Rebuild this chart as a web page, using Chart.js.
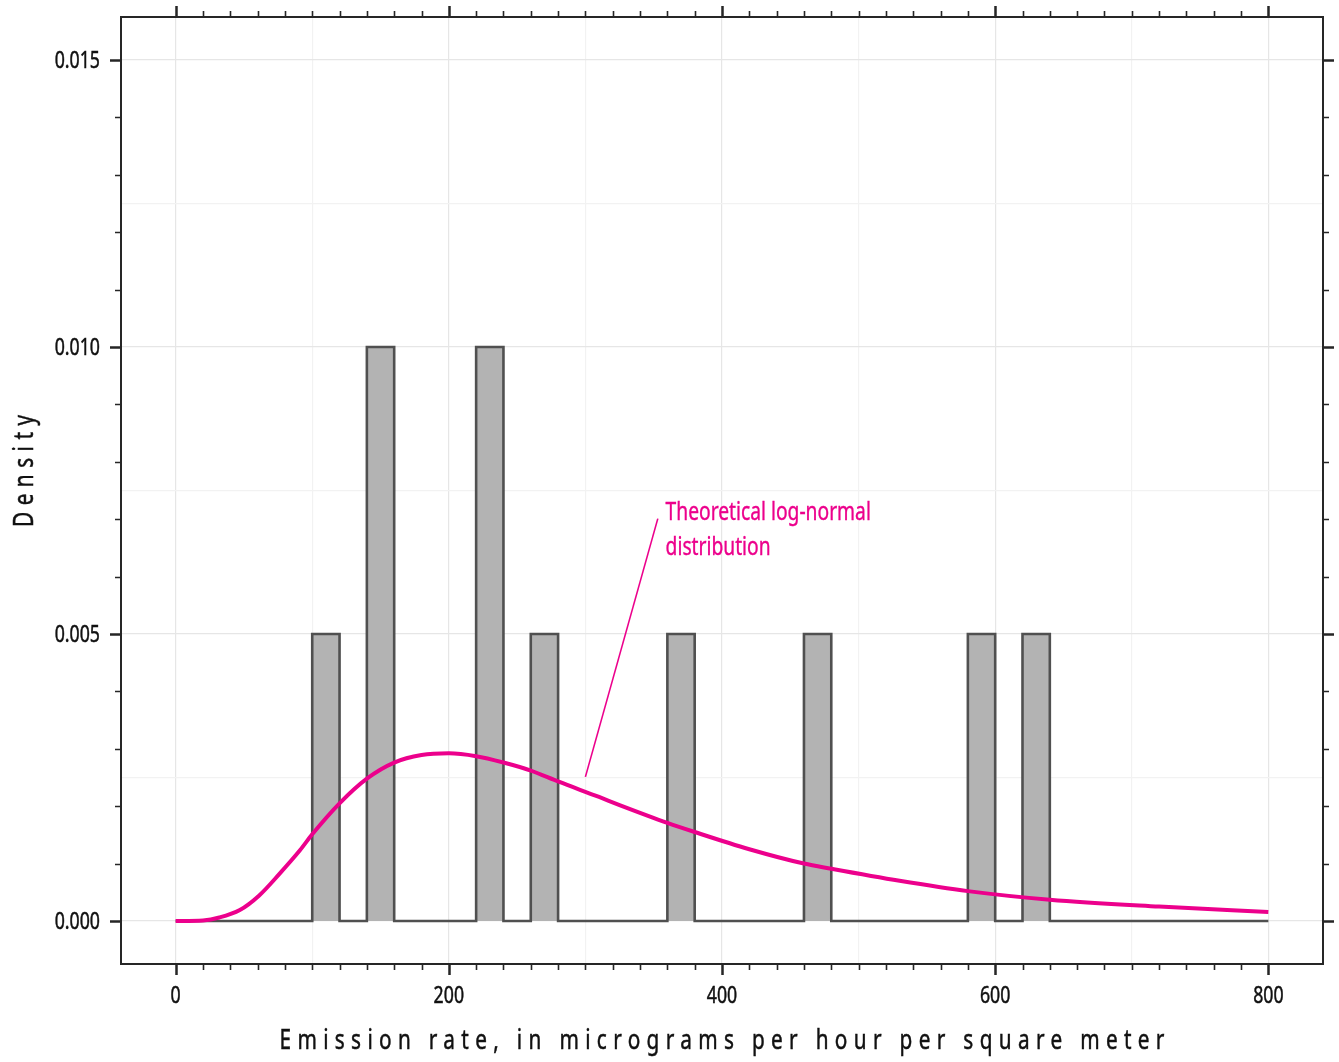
<!DOCTYPE html>
<html>
<head>
<meta charset="utf-8">
<script src="https://cdn.jsdelivr.net/npm/chart.js@4.4.1/dist/chart.umd.min.js"></script>
<style>
    html, body { margin: 0; padding: 0; background: #fff; }
    #wrap { width: 1339px; height: 1062px; position: relative; }
</style>
</head>
<body>
<div id="wrap"><canvas id="chart"></canvas></div>
<script>
// Histogram bins (emission rate) and their densities
const binLeft = [100, 140, 220, 260, 360, 460, 580, 620];
const binRight = [120, 160, 240, 280, 380, 480, 600, 640];
const binDensity = [0.005, 0.010, 0.010, 0.005, 0.005, 0.005, 0.005, 0.005];
const histStart = 0;
const histEnd = 800;

// Theoretical log-normal curve
const curveX = [0, 20, 32, 47, 61, 76, 91, 100, 120, 140, 160, 180, 200, 220, 240, 260, 280,
    310, 325, 360, 380, 420, 460, 480, 530, 580, 640, 720, 800];
const curveY = [0, 0.00001, 0.00006, 0.00019, 0.00044, 0.00082, 0.00123, 0.00151, 0.00205,
    0.00248, 0.00276, 0.00289, 0.00292, 0.00287, 0.00276, 0.00262, 0.00243, 0.00216, 0.00202,
    0.00171, 0.00155, 0.00125, 0.00100, 0.00091, 0.00070, 0.00052, 0.00037, 0.00025, 0.000155];

// Callout (data units)
const leaderX = [353, 300];
const leaderY = [0.00701, 0.00251];
const calloutLines = ['Theoretical log-normal', 'distribution'];
const calloutX = 358.7;
const calloutY = [0.00698, 0.00637];

// Axes
const xTickValues = [0, 200, 400, 600, 800];
const xTickLabels = ['0', '200', '400', '600', '800'];
const yTickValues = [0, 0.005, 0.010, 0.015];
const yTickLabels = ['0.000', '0.005', '0.010', '0.015'];
const xTitle = 'Emission rate, in micrograms per hour per square meter';
const yTitle = 'Density';

const FONT = "'Noto Sans', 'DejaVu Sans', sans-serif";
const MAGENTA = '#ec008c';
const INK = '#111';
const SQUEEZE = 0.77;   // condensed look: narrow the glyphs horizontally

// bars as one outlined polygon along the baseline
const barPoints = [{ x: histStart, y: 0 }];
binLeft.forEach((l, i) => {
    barPoints.push({ x: l, y: 0 }, { x: l, y: binDensity[i] },
        { x: binRight[i], y: binDensity[i] }, { x: binRight[i], y: 0 });
});
barPoints.push({ x: histEnd, y: 0 });

const curvePoints = curveX.map((x, i) => ({ x: x, y: curveY[i] }));
const leaderPoints = leaderX.map((x, i) => ({ x: x, y: leaderY[i] }));

function near(v, step) {
    const r = v / step;
    return Math.abs(r - Math.round(r)) < 1e-6;
}

// fill plus a hairline stroke to thicken the glyphs a little
function ink(ctx, text, x, y, weight) {
    ctx.fillText(text, x, y);
    if (weight) {
        ctx.lineWidth = weight;
        ctx.strokeStyle = ctx.fillStyle;
        ctx.strokeText(text, x, y);
    }
}

function squeezed(ctx, text, x, y, align, sx, weight) {
    ctx.save();
    ctx.translate(x, y);
    ctx.scale(sx, 1);
    ctx.textAlign = align;
    ink(ctx, text, 0, 0, weight);
    ctx.restore();
}

// letter spaced title stretched to a given width, centred on (cx, cy)
function spacedTitle(ctx, text, cx, cy, width, angle) {
    ctx.save();
    ctx.letterSpacing = '0px';
    const w = ctx.measureText(text).width * SQUEEZE;
    const gap = (width - w) / (text.length - 1) / SQUEEZE;
    ctx.letterSpacing = gap.toFixed(2) + 'px';
    ctx.translate(cx, cy);
    ctx.rotate(angle);
    ctx.scale(SQUEEZE, 1);
    ctx.textAlign = 'left';
    ink(ctx, text, -width / 2 / SQUEEZE, 0, 0.5);
    ctx.restore();
}

const frame = {
    id: 'frame',
    afterDraw(chart) {
        const { ctx, chartArea: a, scales: { x, y } } = chart;
        ctx.save();
        ctx.strokeStyle = '#262626';
        ctx.lineCap = 'butt';

        // tick marks on all four sides
        for (let v = 0; v <= 800; v += 20) {
            const px = Math.round(x.getPixelForValue(v)) + 0.5;
            const major = v % 200 === 0;
            const len = major ? 11 : 6;
            ctx.lineWidth = major ? 2.5 : 1.6;
            ctx.beginPath();
            ctx.moveTo(px, a.bottom); ctx.lineTo(px, a.bottom + len);
            ctx.moveTo(px, a.top); ctx.lineTo(px, a.top - len);
            ctx.stroke();
        }
        for (let k = 0; k <= 15; k++) {
            const py = Math.round(y.getPixelForValue(k / 1000)) + 0.5;
            const major = k % 5 === 0;
            const len = major ? 11 : 6;
            ctx.lineWidth = major ? 2.5 : 1.6;
            ctx.beginPath();
            ctx.moveTo(a.left, py); ctx.lineTo(a.left - len, py);
            ctx.moveTo(a.right, py); ctx.lineTo(a.right + len, py);
            ctx.stroke();
        }

        // frame
        ctx.lineWidth = 2;
        ctx.strokeRect(a.left, a.top, a.right - a.left, a.bottom - a.top);

        // tick labels
        ctx.fillStyle = INK;
        ctx.font = '23px ' + FONT;
        ctx.textBaseline = 'alphabetic';
        xTickValues.forEach((v, i) => {
            squeezed(ctx, xTickLabels[i], x.getPixelForValue(v), a.bottom + 39, 'center', SQUEEZE, 0.5);
        });
        yTickValues.forEach((v, i) => {
            squeezed(ctx, yTickLabels[i], a.left - 21, y.getPixelForValue(v) + 8, 'right', SQUEEZE, 0.5);
        });

        // axis titles, letter spaced
        ctx.font = '27px ' + FONT;
        spacedTitle(ctx, xTitle, (a.left + a.right) / 2, 1049, 885, 0);
        spacedTitle(ctx, yTitle, 33, 471, 112, -Math.PI / 2);

        // callout text
        ctx.fillStyle = MAGENTA;
        ctx.font = '26px ' + FONT;
        calloutLines.forEach((t, i) => {
            squeezed(ctx, t, x.getPixelForValue(calloutX), y.getPixelForValue(calloutY[i]), 'left', 0.74, 0.4);
        });
        ctx.restore();
    }
};

function zeroPad(axis) {
    axis.paddingTop = 0;
    axis.paddingBottom = 0;
    axis.paddingLeft = 0;
    axis.paddingRight = 0;
}

new Chart(document.getElementById('chart'), {
    type: 'line',
    data: {
        datasets: [
            {
                label: 'Log-normal',
                data: curvePoints,
                borderColor: MAGENTA,
                borderWidth: 4,
                pointRadius: 0,
                cubicInterpolationMode: 'monotone',
                fill: false,
                order: 0
            },
            {
                label: 'Leader',
                data: leaderPoints,
                borderColor: MAGENTA,
                borderWidth: 1.6,
                pointRadius: 0,
                fill: false,
                order: 1
            },
            {
                label: 'Histogram',
                data: barPoints,
                borderColor: '#505050',
                backgroundColor: '#b3b3b3',
                borderWidth: 2.6,
                borderJoinStyle: 'miter',
                pointRadius: 0,
                tension: 0,
                fill: 'origin',
                order: 2
            }
        ]
    },
    options: {
        responsive: true,
        maintainAspectRatio: false,
        animation: false,
        layout: { padding: { top: 17, right: 16, left: 0, bottom: 0 } },
        plugins: {
            legend: { display: false },
            tooltip: { enabled: false }
        },
        scales: {
            x: {
                type: 'linear',
                position: 'bottom',
                min: -40,
                max: 840,
                afterBuildTicks: axis => {
                    const t = [];
                    for (let v = 0; v <= 800; v += 100) t.push({ value: v });
                    axis.ticks = t;
                },
                afterFit: axis => { axis.height = 98; zeroPad(axis); },
                border: { display: false },
                grid: {
                    drawTicks: false,
                    color: c => c.tick.value % 200 === 0 ? '#e6e6e6' : '#f2f2f2',
                    lineWidth: 1.2
                },
                ticks: { display: false }
            },
            y: {
                type: 'linear',
                position: 'left',
                min: -0.00075,
                max: 0.01575,
                afterBuildTicks: axis => {
                    const t = [];
                    for (let k = 0; k <= 6; k++) t.push({ value: k * 0.0025 });
                    axis.ticks = t;
                },
                afterFit: axis => { axis.width = 121; zeroPad(axis); },
                border: { display: false },
                grid: {
                    drawTicks: false,
                    color: c => near(c.tick.value, 0.005) ? '#e6e6e6' : '#f2f2f2',
                    lineWidth: 1.2
                },
                ticks: { display: false }
            }
        }
    },
    plugins: [frame]
});
</script>
</body>
</html>
